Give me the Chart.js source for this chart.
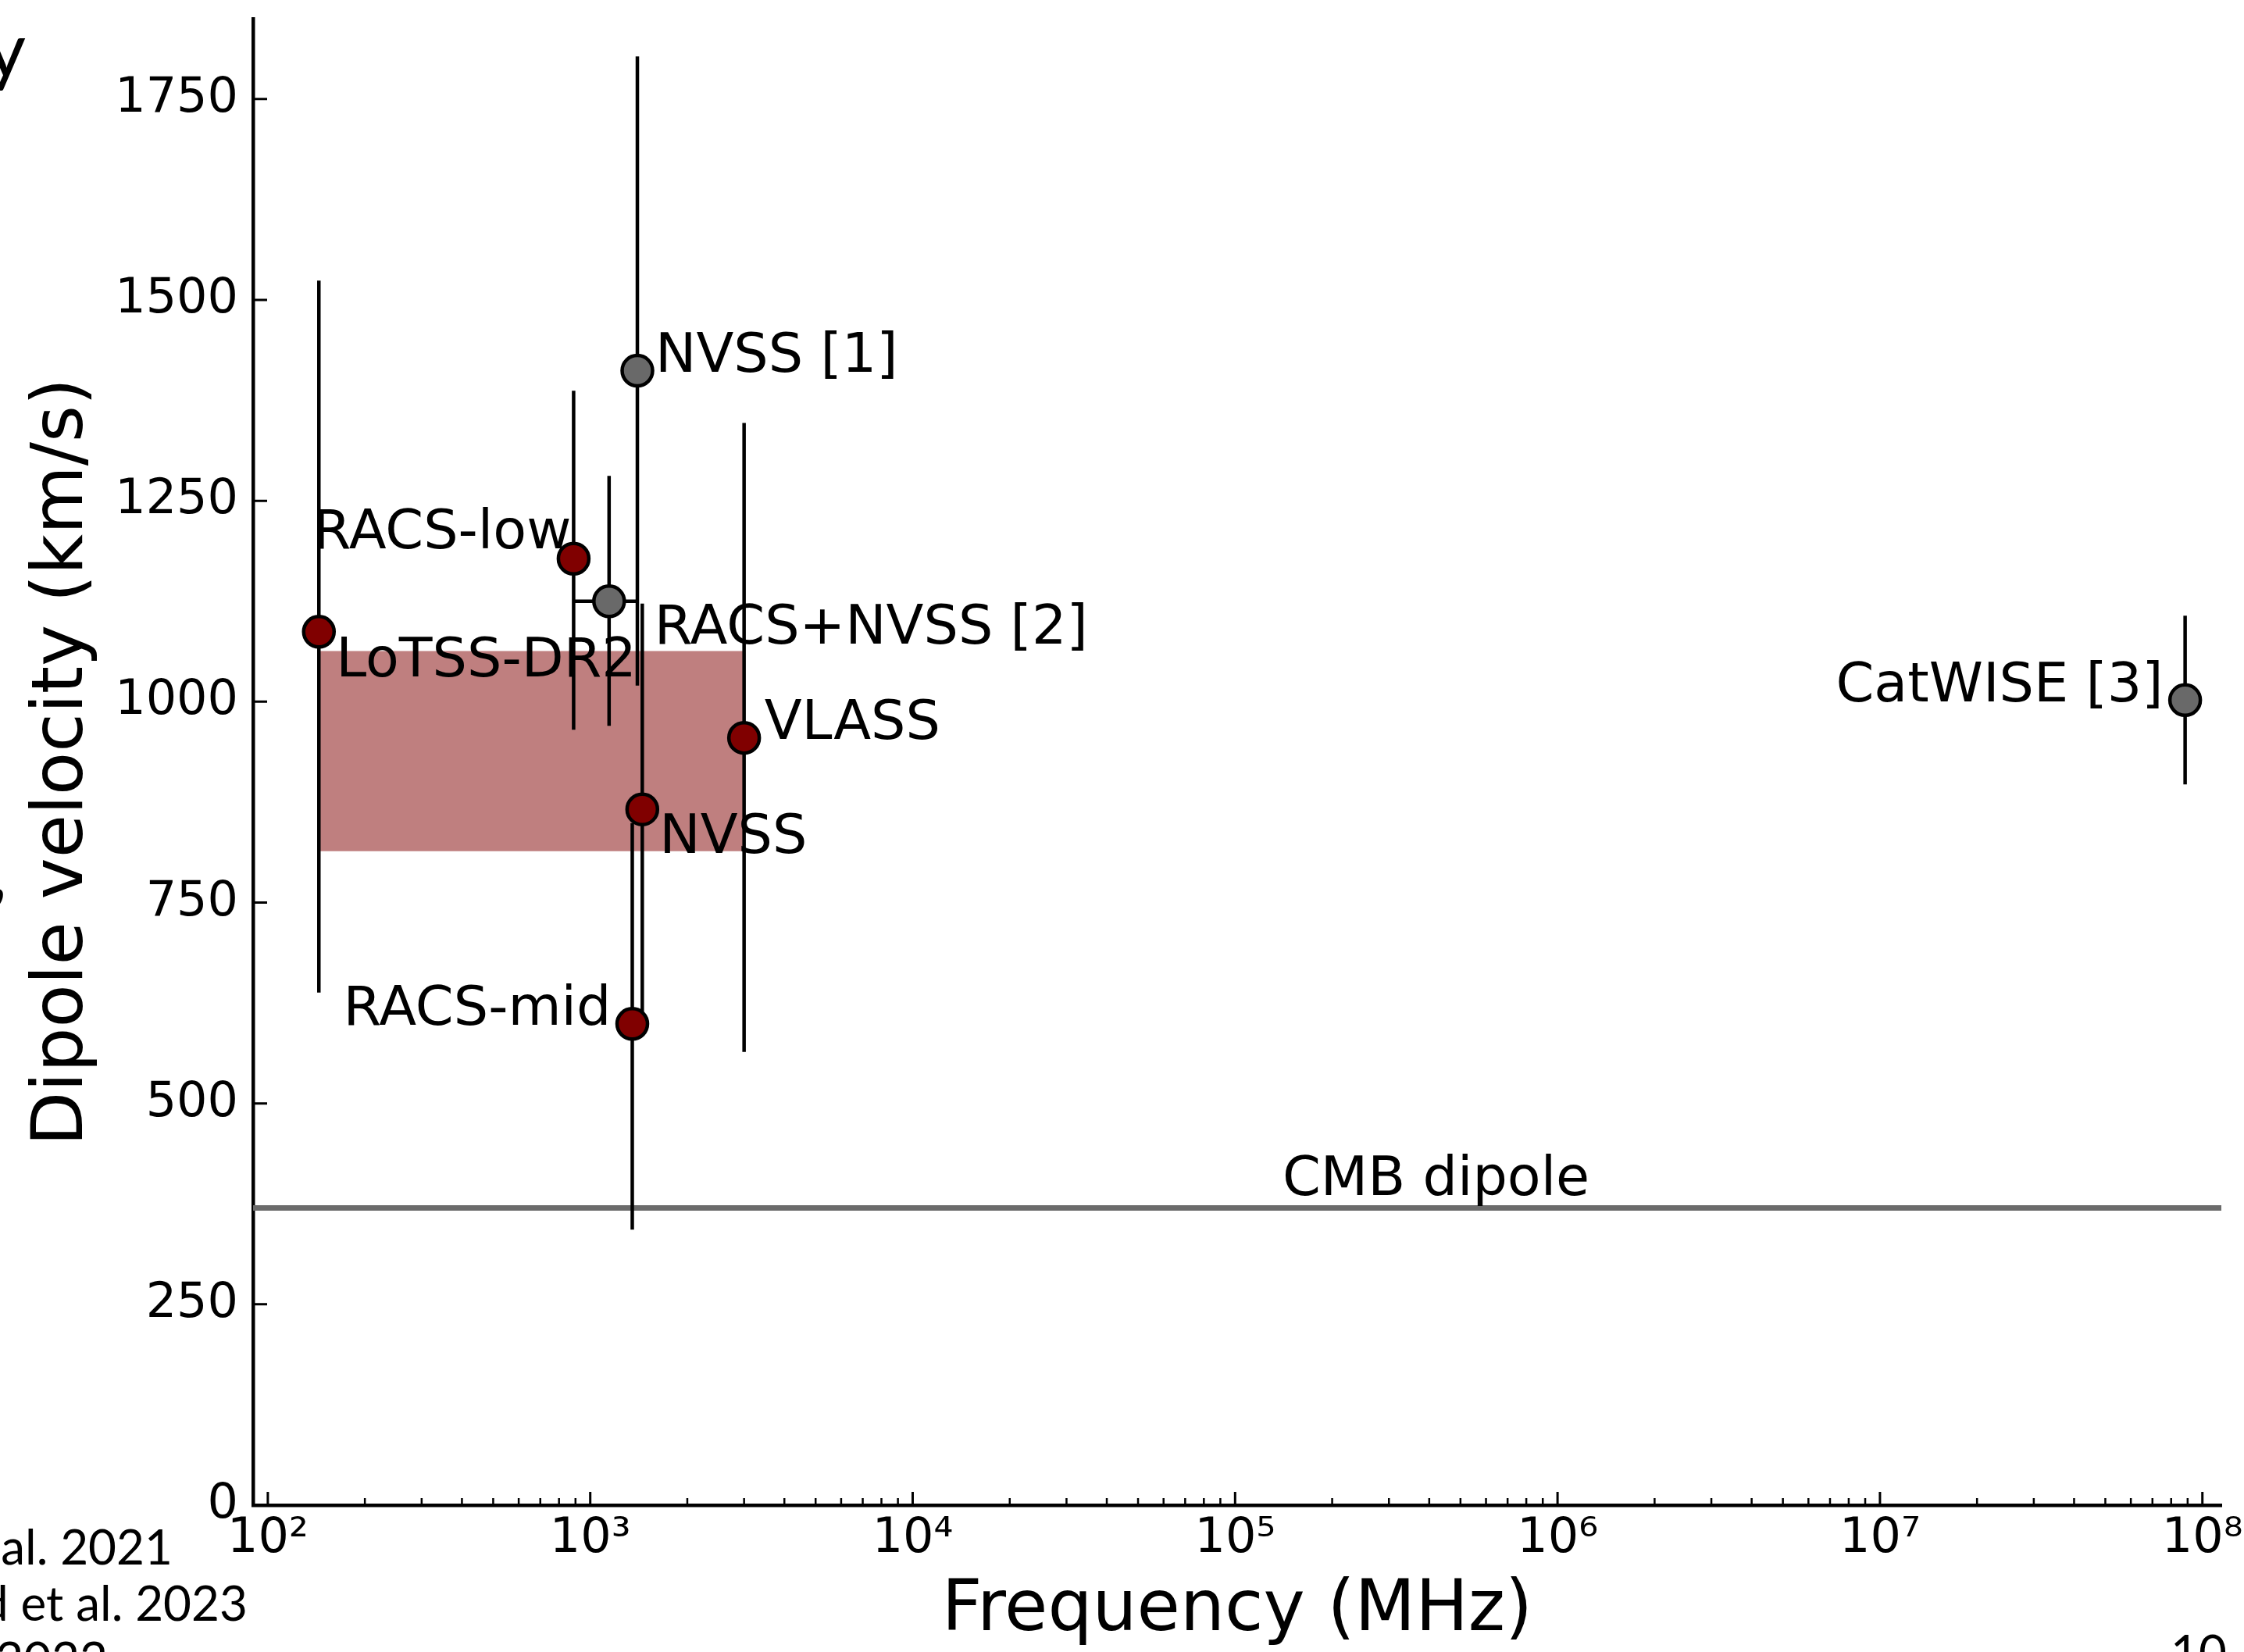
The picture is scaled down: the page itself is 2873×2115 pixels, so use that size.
<!DOCTYPE html>
<html>

<head>
    <meta charset="utf-8">
    <script src="https://cdn.jsdelivr.net/npm/chart.js@4.4.1/dist/chart.umd.min.js"></script>
    <style>
        body { margin: 0; background: #fff; }
    </style>
</head>

<body>
    <canvas id="dipole" width="2873" height="2115"></canvas>

    <script>
        const surveys = ['LoTSS-DR2', 'RACS-low', 'RACS+NVSS [2]', 'NVSS [1]', 'NVSS', 'RACS-mid', 'VLASS', 'CatWISE [3]']
        const freqMHz = [144, 888, 1144, 1400, 1450, 1350, 3000, 8.84e7]
        const velocity = [1087, 1178, 1125, 1412, 866, 599, 955, 1002]
        const velLow = [638, 965, 970, 1020, 614, 343, 564, 897]
        const velHigh = [1524, 1387, 1281, 1803, 1122, 849, 1347, 1107]
        const thisWork = [true, true, false, false, true, true, true, false]

        // RACS+NVSS combines both frequencies
        const combinedIndex = 2
        const combinedFreq = [888, 1400]

        // shaded band
        const bandFreq = [144, 3000]
        const bandVel = [814, 1063]

        const cmbVelocity = 370
        const cmbLabelFreq = 4.2e5

        const xTicks = [1e2, 1e3, 1e4, 1e5, 1e6, 1e7, 1e8]
        const yTicks = [0, 250, 500, 750, 1000, 1250, 1500, 1750]

        // where each label sits relative to its marker (pixels)
        const labelPlacement = [
            { align: 'left', dx: 22, dy: 57 },
            { align: 'right', dx: -3, dy: -13 },
            { align: 'left', dx: 58, dy: 54 },
            { align: 'left', dx: 23, dy: 1 },
            { align: 'left', dx: 22, dy: 56 },
            { align: 'right', dx: -27, dy: 1 },
            { align: 'left', dx: 26, dy: 1 },
            { align: 'right', dx: -28, dy: 2 }
        ]

        const sup = { 2: '²', 3: '³', 4: '⁴', 5: '⁵', 6: '⁶', 7: '⁷', 8: '⁸' }
        const font = 'DejaVu Sans'
        const lw = 4.5

        const datasets = []
        datasets.push({
            data: freqMHz.map((f, i) => ({ x: f, y: velocity[i] })),
            showLine: false,
            pointRadius: 19.5,
            pointBorderWidth: lw,
            pointBorderColor: '#000',
            pointBackgroundColor: thisWork.map(t => t ? '#800000' : '#696969'),
            order: 0
        })
        for (let i = 0; i < freqMHz.length; i++) {
            datasets.push({
                data: [{ x: freqMHz[i], y: velLow[i] }, { x: freqMHz[i], y: velHigh[i] }],
                borderColor: '#000',
                borderWidth: lw,
                pointRadius: 0,
                order: 1
            })
        }
        datasets.push({
            data: [{ x: combinedFreq[0], y: velocity[combinedIndex] }, { x: combinedFreq[1], y: velocity[combinedIndex] }],
            borderColor: '#000',
            borderWidth: lw,
            pointRadius: 0,
            order: 1
        })
        datasets.push({
            data: [{ x: 90, y: cmbVelocity }, { x: 1.145e8, y: cmbVelocity }],
            borderColor: '#6b6b6b',
            borderWidth: 7,
            pointRadius: 0,
            order: 2
        })
        const bandTop = datasets.length
        datasets.push({
            data: bandFreq.map(f => ({ x: f, y: bandVel[1] })),
            borderColor: 'transparent',
            borderWidth: 0,
            pointRadius: 0,
            fill: bandTop + 1,
            backgroundColor: 'rgba(128,0,0,0.5)',
            order: 3
        })
        datasets.push({
            data: bandFreq.map(f => ({ x: f, y: bandVel[0] })),
            borderColor: 'transparent',
            borderWidth: 0,
            pointRadius: 0,
            fill: false,
            order: 3
        })

        // inward tick marks like matplotlib
        const tickMarks = {
            id: 'tickMarks',
            afterDraw(chart) {
                const { ctx, chartArea, scales: { x, y } } = chart
                ctx.save()
                ctx.strokeStyle = '#000'
                ctx.lineWidth = 3
                ctx.beginPath()
                for (const v of yTicks) {
                    const py = y.getPixelForValue(v)
                    ctx.moveTo(chartArea.left, py)
                    ctx.lineTo(chartArea.left + 18, py)
                }
                for (const v of xTicks) {
                    const px = x.getPixelForValue(v)
                    ctx.moveTo(px, chartArea.bottom)
                    ctx.lineTo(px, chartArea.bottom - 17)
                }
                ctx.stroke()
                ctx.lineWidth = 2.5
                ctx.beginPath()
                for (let k = 2; k < 8; k++) {
                    for (let m = 2; m < 10; m++) {
                        const px = x.getPixelForValue(m * Math.pow(10, k))
                        ctx.moveTo(px, chartArea.bottom)
                        ctx.lineTo(px, chartArea.bottom - 9)
                    }
                }
                ctx.stroke()

                // bits of the surrounding slide that are cut off by the crop
                ctx.fillStyle = '#000'
                ctx.textAlign = 'right'
                ctx.textBaseline = 'alphabetic'
                ctx.font = '98px Lato'
                ctx.fillText('y', 33, 99)
                ctx.fillText(',', 9, 1150)
                ctx.font = '62px Lato'
                ctx.fillText('al. 2021', 221, 2003)
                ctx.fillText('d et al. 2023', 317, 2075)
                ctx.fillText('2022', 138, 2147)
                ctx.fillText('10', 2851, 2138)
                ctx.restore()
            }
        }

        const pointLabels = {
            id: 'pointLabels',
            afterDatasetsDraw(chart) {
                const { ctx, scales: { x, y } } = chart
                ctx.save()
                ctx.fillStyle = '#000'
                ctx.font = '70px "' + font + '"'
                ctx.textBaseline = 'alphabetic'
                surveys.forEach((name, i) => {
                    const p = labelPlacement[i]
                    ctx.textAlign = p.align
                    ctx.fillText(name, x.getPixelForValue(freqMHz[i]) + p.dx, y.getPixelForValue(velocity[i]) + p.dy)
                })
                ctx.textAlign = 'center'
                ctx.fillText('CMB dipole', x.getPixelForValue(cmbLabelFreq), y.getPixelForValue(cmbVelocity) - 16)
                ctx.restore()
            }
        }

        new Chart(document.getElementById('dipole'), {
            type: 'line',
            data: { datasets: datasets },
            options: {
                responsive: false,
                animation: false,
                devicePixelRatio: 1,
                events: [],
                layout: { padding: { top: 16, right: 29, bottom: 0, left: 0 } },
                plugins: { legend: { display: false }, tooltip: { enabled: false } },
                scales: {
                    x: {
                        type: 'logarithmic',
                        position: 'bottom',
                        min: 90,
                        max: 1.145e8,
                        bounds: 'data',
                        grid: { display: false, drawTicks: false },
                        border: { display: true, color: '#000', width: lw },
                        ticks: {
                            autoSkip: false,
                            maxRotation: 0,
                            padding: 7,
                            color: '#000',
                            font: { family: font, size: 62 },
                            callback: v => '10' + sup[Math.round(Math.log10(v))]
                        },
                        afterBuildTicks: s => { s.ticks = xTicks.map(v => ({ value: v })) },
                        afterFit: s => { s.height = 188; s.paddingLeft = 0; s.paddingRight = 0 },
                        title: {
                            display: true,
                            text: 'Frequency (MHz)',
                            color: '#000',
                            font: { family: font, size: 90, lineHeight: 1 },
                            padding: { top: 0, bottom: 6 }
                        }
                    },
                    y: {
                        type: 'linear',
                        min: 0,
                        max: 1850,
                        grid: { display: false, drawTicks: false },
                        border: { display: true, color: '#000', width: lw },
                        ticks: {
                            padding: 19,
                            color: '#000',
                            font: { family: font, size: 62 },
                            callback: v => String(v)
                        },
                        afterBuildTicks: s => { s.ticks = yTicks.map(v => ({ value: v })) },
                        afterFit: s => { s.width = 324; s.paddingTop = 0; s.paddingBottom = 0 },
                        title: {
                            display: true,
                            text: 'Dipole velocity (km/s)',
                            color: '#000',
                            font: { family: font, size: 90, lineHeight: 1.2 },
                            padding: { top: 28, bottom: 0 }
                        }
                    }
                }
            },
            plugins: [tickMarks, pointLabels]
        })
    </script>
</body>

</html>
